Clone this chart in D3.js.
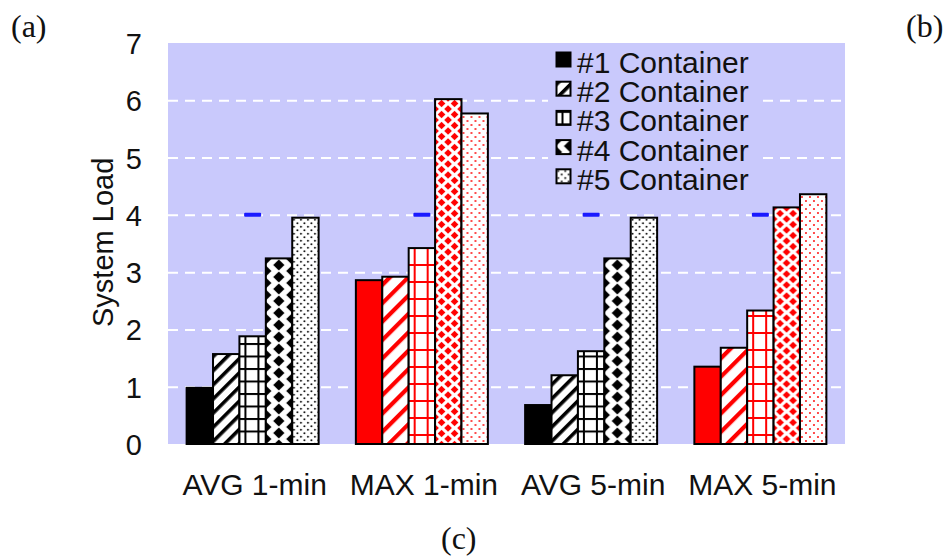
<!DOCTYPE html>
<html>
<head>
<meta charset="utf-8">
<script src="https://cdn.jsdelivr.net/npm/d3@7"></script>
<style>
  body { margin: 0; background: #fff; }
  text { font-family: "Liberation Sans", Arial, sans-serif; fill: #111; }
  .panel { font-family: "Liberation Serif", "Times New Roman", serif; font-size: 32px; }
  .grid line { stroke: #fff; stroke-width: 2; stroke-dasharray: 10 7; }
  .grid .domain { display: none; }
  .yaxis .domain { display: none; }
  .yaxis text { font-size: 29px; }
</style>
</head>
<body>
<svg id="chart" width="951" height="556"></svg>
<script>
//----------- DATA ---------------------------//
var categories = ["AVG 1-min", "MAX 1-min", "AVG 5-min", "MAX 5-min"];
var seriesNames = ["#1 Container", "#2 Container", "#3 Container", "#4 Container", "#5 Container"];
var container1 = [0.98, 2.86, 0.68, 1.35];
var container2 = [1.57, 2.92, 1.20, 1.68];
var container3 = [1.88, 3.42, 1.62, 2.33];
var container4 = [3.24, 6.02, 3.24, 4.13];
var container5 = [3.95, 5.77, 3.95, 4.36];
var threshold  = [4, 4, 4, 4];
var groupInk   = ["black", "red", "black", "red"];
var yTicks     = [0, 1, 2, 3, 4, 5, 6, 7];
var gridValues = [1, 2, 3, 4, 5, 6];

var seriesValues = [container1, container2, container3, container4, container5];
var patternKinds = ["solid", "stripe", "grid", "diamond", "dots"];

var margin = {top: 43, right: 106, bottom: 112, left: 168};
var width = 951 - margin.left - margin.right;
var height = 556 - margin.top - margin.bottom;

var root = d3.select("#chart");
var defs = root.append("defs");

//----------- PATTERNS ---------------------------//
function diamondPath(cx, cy, rx, ry) {
  return "M" + cx + "," + (cy - ry) + "L" + (cx + rx) + "," + cy +
         "L" + cx + "," + (cy + ry) + "L" + (cx - rx) + "," + cy + "Z";
}

function makePatterns(ink) {
  var col = ink == "red" ? "#ff0000" : "#000";
  var big = ink == "red";

  // diagonal stripes
  var sw = big ? 13 : 10;
  var p = defs.append("pattern").attr("id", "stripe-" + ink)
      .attr("patternUnits", "userSpaceOnUse")
      .attr("width", sw).attr("height", 10)
      .attr("patternTransform", "rotate(45)");
  p.append("rect").attr("width", sw).attr("height", 10).attr("fill", "#fff");
  p.append("rect").attr("width", big ? 4.2 : 3.6).attr("height", 10).attr("fill", col);

  // grid
  var gs = big ? 17 : 12.5;
  p = defs.append("pattern").attr("id", "grid-" + ink)
      .attr("patternUnits", "userSpaceOnUse")
      .attr("width", 13).attr("height", gs);
  p.append("rect").attr("width", 13).attr("height", gs).attr("fill", "#fff");
  p.append("rect").attr("y", 0).attr("width", 13).attr("height", 2).attr("fill", col);
  p.append("rect").attr("x", 5).attr("width", 2).attr("height", gs).attr("fill", col);

  // diamonds
  var dw, dh, r;
  if (big) { dw = 13; dh = 11; r = 3.8; }
  else { dw = 26; dh = 12; r = 5.6; }
  p = defs.append("pattern").attr("id", "diamond-" + ink)
      .attr("patternUnits", "userSpaceOnUse")
      .attr("width", dw).attr("height", dh);
  p.append("rect").attr("width", dw).attr("height", dh).attr("fill", "#fff");
  p.append("path").attr("fill", col).attr("d", diamondPath(dw / 2, dh / 2, r, r));
  [[0, 0], [dw, 0], [0, dh], [dw, dh]].forEach(function(c) {
    p.append("path").attr("fill", col).attr("d", diamondPath(c[0], c[1], r, r));
  });

  // dots
  var ds = big ? 8 : 7;
  p = defs.append("pattern").attr("id", "dots-" + ink)
      .attr("patternUnits", "userSpaceOnUse")
      .attr("width", ds).attr("height", ds);
  p.append("rect").attr("width", ds).attr("height", ds).attr("fill", "#fff");
  p.append("circle").attr("cx", ds / 4).attr("cy", ds / 4).attr("r", 0.95).attr("fill", col);
  p.append("circle").attr("cx", ds * 3 / 4).attr("cy", ds * 3 / 4).attr("r", 0.95).attr("fill", col);
}
makePatterns("black");
makePatterns("red");

function fillFor(kind, ink) {
  if (kind == "solid") return ink == "red" ? "#ff0000" : "#000";
  return "url(#" + kind + "-" + ink + ")";
}

//----------- SCALES ---------------------------//
var svg = root.append("g")
    .attr("transform", "translate(" + margin.left + "," + margin.top + ")");

var x0 = d3.scaleBand()
    .domain(categories)
    .range([0, width])
    .paddingInner(0.22)
    .paddingOuter(0.11);

var x1 = d3.scaleBand()
    .domain(d3.range(seriesNames.length))
    .range([0, x0.bandwidth()]);

var y = d3.scaleLinear()
    .domain([0, 7])
    .range([height, 0]);

// plot background
svg.append("rect")
    .attr("width", width)
    .attr("height", height)
    .attr("fill", "#c9c9fc");

// dashed grid
svg.append("g")
    .attr("class", "grid")
    .call(d3.axisLeft(y).tickValues(gridValues).tickSize(-width).tickFormat(""));

// y axis labels
svg.append("g")
    .attr("class", "yaxis")
    .call(d3.axisLeft(y).tickValues(yTicks).tickSize(0).tickPadding(26).tickFormat(d3.format("d")))
    .selectAll("text")
    .attr("dy", "0.36em");

svg.append("text")
    .attr("transform", "rotate(-90)")
    .attr("x", -(y(3.52)))
    .attr("y", -55)
    .style("text-anchor", "middle")
    .style("font-size", "29px")
    .text("System Load");

//----------- BARS ---------------------------//
var groups = svg.append("g").attr("class", "data")
  .selectAll(".group")
  .data(categories)
  .enter()
  .append("g")
  .attr("class", "group")
  .attr("transform", function(d) { return "translate(" + x0(d) + ",0)"; });

// each bar is translated so its pattern starts at the bar's left edge
groups.selectAll("rect")
  .data(function(d, gi) {
    return seriesValues.map(function(vals, si) {
      return {series: si, value: vals[gi], ink: groupInk[gi]};
    });
  })
  .enter()
  .append("rect")
  .attr("transform", function(d) { return "translate(" + x1(d.series) + ",0)"; })
  .attr("x", 0)
  .attr("y", function(d) { return y(d.value); })
  .attr("width", x1.bandwidth())
  .attr("height", function(d) { return y(0) - y(d.value); })
  .attr("fill", function(d) { return fillFor(patternKinds[d.series], d.ink); })
  .attr("stroke", "#000")
  .attr("stroke-width", 2);

// blue threshold marks
svg.append("g").attr("class", "marks")
  .selectAll("rect")
  .data(categories)
  .enter()
  .append("rect")
  .attr("x", function(d) { return x0(d) + x0.bandwidth() / 2 - 8.5; })
  .attr("y", function(d, i) { return y(threshold[i]) - 2; })
  .attr("width", 17)
  .attr("height", 4)
  .attr("rx", 1)
  .attr("fill", "#1a1aff");

// category labels
svg.append("g").attr("class", "xlabels")
  .selectAll("text")
  .data(categories)
  .enter()
  .append("text")
  .attr("x", function(d) { return x0(d) + x0.bandwidth() / 2 + 2; })
  .attr("y", height + 51)
  .style("text-anchor", "middle")
  .style("font-size", "30px")
  .text(function(d) { return d; });

//----------- LEGEND ---------------------------//
var legend = svg.append("g").attr("class", "legend")
    .attr("transform", "translate(380,0)");

legend.append("rect")
    .attr("x", 0).attr("y", 2)
    .attr("width", 209).attr("height", 151)
    .attr("fill", "#c9c9fc");

var item = legend.selectAll(".item")
  .data(seriesNames)
  .enter()
  .append("g")
  .attr("class", "item")
  .attr("transform", function(d, i) { return "translate(0," + (30 + i * 29.2) + ")"; });

item.append("rect")
  .attr("transform", "translate(8.5,-20.5)")
  .attr("width", 14).attr("height", 14)
  .attr("fill", function(d, i) { return fillFor(patternKinds[i], "black"); })
  .attr("stroke", "#000")
  .attr("stroke-width", 2);

item.append("text")
  .attr("x", 29)
  .attr("y", 0)
  .style("font-size", "30px")
  .text(function(d) { return d; });

//----------- PANEL LETTERS ---------------------------//
root.append("text").attr("class", "panel").attr("x", 11).attr("y", 37).text("(a)");
root.append("text").attr("class", "panel").attr("x", 906).attr("y", 37).text("(b)");
root.append("text").attr("class", "panel").attr("x", 441).attr("y", 549).text("(c)");
</script>
</body>
</html>
